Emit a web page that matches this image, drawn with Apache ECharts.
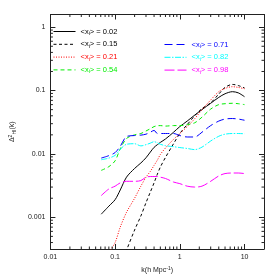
<!DOCTYPE html>
<html>
<head>
<meta charset="utf-8">
<script src="https://cdn.jsdelivr.net/npm/echarts@6/dist/echarts.min.js"></script>
<style>html,body{margin:0;padding:0;background:#fff}#c{width:279px;height:279px}</style>
</head>
<body>
<div id="c"></div>
<script>
const kValues = [0.061, 0.08, 0.1, 0.12, 0.15, 0.2, 0.25, 0.3, 0.35, 0.4, 0.45, 0.5, 0.6, 0.8, 1.0, 1.3, 1.7, 2.2, 3, 4, 5, 6.5, 8, 10];
const xi002 = [0.00112,0.0015,0.0019,0.0027,0.0043,0.0059,0.0072,0.0087,0.0107,0.0127,0.014,0.0152,0.0172,0.022,0.027,0.033,0.041,0.050,0.063,0.078,0.089,0.096,0.092,0.080];
const xi015 = [0.00002,0.00004,0.00008,0.00015,0.00030,0.00063,0.00105,0.0017,0.0025,0.0035,0.0048,0.0062,0.0088,0.0145,0.021,0.029,0.040,0.052,0.064,0.088,0.112,0.125,0.120,0.110];
const xi021 = [0.00012,0.00027,0.0004,0.0007,0.0012,0.0020,0.0031,0.0043,0.0053,0.0066,0.0080,0.0098,0.0124,0.017,0.021,0.027,0.036,0.050,0.071,0.096,0.108,0.115,0.112,0.107];
const xi054 = [0.0055,0.0063,0.0078,0.012,0.0175,0.020,0.021,0.023,0.025,0.027,0.0278,0.028,0.0275,0.028,0.028,0.029,0.031,0.038,0.051,0.060,0.062,0.063,0.062,0.060];
const xi071 = [0.0086,0.0094,0.0105,0.0132,0.0188,0.0195,0.0198,0.0205,0.022,0.0235,0.021,0.021,0.021,0.021,0.0195,0.0185,0.0185,0.022,0.028,0.033,0.0355,0.0362,0.0355,0.034];
const xi082 = [0.0081,0.0086,0.0095,0.0118,0.0142,0.0145,0.0134,0.014,0.0148,0.0156,0.015,0.0142,0.0135,0.013,0.0126,0.0122,0.0117,0.0128,0.016,0.019,0.0205,0.021,0.021,0.0208];
const xi098 = [0.0022,0.0028,0.0031,0.0035,0.0037,0.0037,0.0038,0.0043,0.0044,0.0044,0.0044,0.0043,0.0041,0.0036,0.0034,0.0031,0.0030,0.0031,0.0037,0.0045,0.0049,0.0050,0.0050,0.0049];
const seriesNames = ['0.02','0.15','0.21','0.54','0.71','0.82','0.98'];
const xTickLabels = ['0.01','0.1','1','10'];
const yTickLabels = ['0.001','0.01','0.1','1'];

const allValues = [xi002, xi015, xi021, xi054, xi071, xi082, xi098];
const colors = ['#000000','#000000','#ff0000','#00ee00','#0000ff','#00ffff','#ff00ff'];
const dashes = ['solid',[3,2.5],[1,1.5],[4,3],[8,4],[6,1.5,1.5,1.5],[10,3]];

const xMin = 0.01, xMax = 20, yMin = Math.pow(10,-3.5), yMax = Math.pow(10,0.2);
// minor tick positions (2..9 in each decade)
const xMinor = [], yMinor = [];
[0.01,0.1,1,10].forEach(d => { for (let m=2;m<=9;m++){ const v=m*d; if (v<xMax) xMinor.push(v);} });
[0.0001,0.001,0.01,0.1,1].forEach(d => { for (let m=2;m<=9;m++){ const v=m*d; if (v>yMin && v<yMax) yMinor.push(v);} });

const FONT = 'Liberation Sans';
const series = allValues.map((vals, i) => ({
  name: seriesNames[i], type: 'line', showSymbol: false, symbol: 'none', smooth: 0.3,
  data: kValues.map((k, j) => [k, vals[j]]),
  lineStyle: { color: colors[i], width: 1, type: dashes[i] },
  itemStyle: { color: colors[i] },
  clip: true, z: 3
}));
series.push({
  type: 'custom', silent: true, z: 5,
  data: xMinor.map(v => [v, 0.01]),
  renderItem: (params, api) => {
    const cs = params.coordSys; const px = api.coord([api.value(0), api.value(1)])[0];
    const L = 2.5;
    return { type: 'group', children: [
      { type: 'line', shape: { x1: px, y1: cs.y + cs.height, x2: px, y2: cs.y + cs.height - L }, style: { stroke: '#222', lineWidth: 1 } },
      { type: 'line', shape: { x1: px, y1: cs.y, x2: px, y2: cs.y + L }, style: { stroke: '#222', lineWidth: 1 } }
    ]};
  }
});
series.push({
  type: 'custom', silent: true, z: 5,
  data: yMinor.map(v => [1, v]),
  renderItem: (params, api) => {
    const cs = params.coordSys; const py = api.coord([api.value(0), api.value(1)])[1];
    const L = 2.5;
    return { type: 'group', children: [
      { type: 'line', shape: { x1: cs.x, y1: py, x2: cs.x + L, y2: py }, style: { stroke: '#222', lineWidth: 1 } },
      { type: 'line', shape: { x1: cs.x + cs.width, y1: py, x2: cs.x + cs.width - L, y2: py }, style: { stroke: '#222', lineWidth: 1 } }
    ]};
  }
});

const fmt = v => {
  const lg = Math.round(Math.log10(v));
  if (Math.abs(Math.log10(v) - lg) > 1e-6) return '';
  return lg < 0 ? v.toFixed(-lg) : String(Math.round(v));
};
const axisCommon = {
  type: 'log', logBase: 10,
  axisLine: { lineStyle: { color: '#222', width: 1 } },
  axisTick: { inside: true, length: 5, lineStyle: { color: '#222' } },
  splitLine: { show: false },
};
const legendRich = { s: { fontSize: 5.5, verticalAlign: 'bottom', padding: [4,0,0,0] } };
const legendItem = i => ({ name: seriesNames[i], textStyle: { color: colors[i] } });
const legendFmt = name => '<x{s|i}> = ' + name;
const legendCommon = { orient: 'vertical', itemWidth: 22, itemHeight: 10, itemGap: 2.8,
  itemStyle: { opacity: 0, color: 'transparent', borderWidth: 0 },
  lineStyle: { width: 1 },
  textStyle: { fontFamily: FONT, fontSize: 7.5, lineHeight: 10, rich: legendRich }, formatter: legendFmt };

const option = {
  animation: false,
  backgroundColor: '#fff',
  grid: { left: 34.5, right: 15, top: 14.5, bottom: 30, containLabel: false },
  xAxis: [
    Object.assign({}, axisCommon, { position: 'bottom', min: xMin, max: xMax,
      name: 'k(h Mpc{sup|-1})', nameLocation: 'middle', nameGap: 16,
      nameTextStyle: { fontFamily: FONT, fontSize: 7, color: '#222', rich: { sup: { fontSize: 5, verticalAlign: 'top', padding: [0,0,4,0] } } },
      axisLabel: { fontFamily: FONT, fontSize: 7, color: '#222', margin: 5, showMaxLabel: false, formatter: fmt } }),
    Object.assign({}, axisCommon, { position: 'top', min: xMin, max: xMax, axisLabel: { show: false } })
  ],
  yAxis: [
    Object.assign({}, axisCommon, { position: 'left', min: yMin, max: yMax,
      name: 'Δ{sup|2}{sub|HI}(k)', nameLocation: 'middle', nameGap: 24, nameRotate: 90,
      nameTextStyle: { fontFamily: FONT, fontSize: 7, color: '#222', rich: {
        sup: { fontSize: 5, verticalAlign: 'top', padding: [0,0,4,0] },
        sub: { fontSize: 5, verticalAlign: 'bottom', padding: [4,0,0,0] } } },
      axisLabel: { fontFamily: FONT, fontSize: 7, color: '#222', margin: 5, showMinLabel: false, showMaxLabel: false, formatter: fmt } }),
    Object.assign({}, axisCommon, { position: 'right', min: yMin, max: yMax, axisLabel: { show: false } })
  ],
  legend: [
    Object.assign({}, legendCommon, { left: 48, top: 21.5, data: [0,1,2,3].map(legendItem) }),
    Object.assign({}, legendCommon, { left: 159, top: 34.5, data: [4,5,6].map(legendItem) })
  ],
  series: series
};
const chart = echarts.init(document.getElementById('c'), null, { renderer: 'canvas' });
chart.setOption(option);
</script>
</body>
</html>
